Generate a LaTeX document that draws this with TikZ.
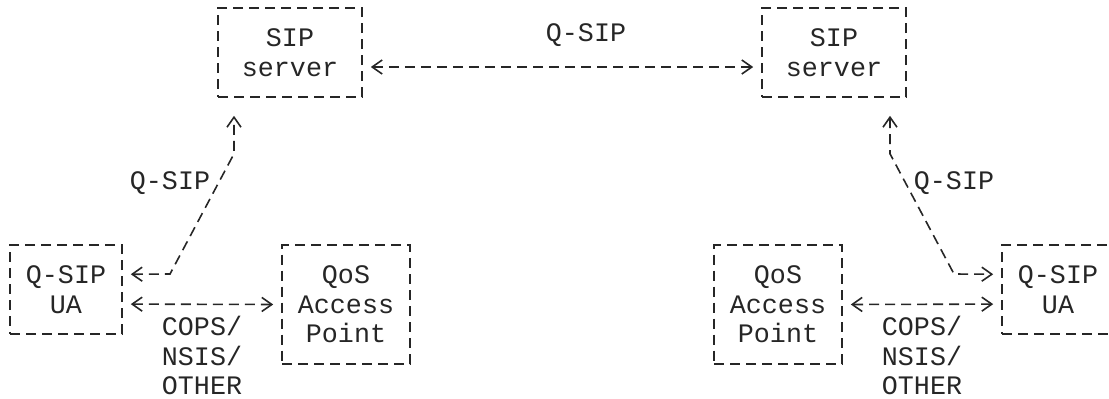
\documentclass[tikz,border=0pt]{standalone}
\usepackage{fontspec}
\setmonofont{Liberation Mono}
\usetikzlibrary{arrows.meta}

\begin{document}
\begin{tikzpicture}[x=0.5pt, y=-0.5pt, line width=0.8pt, draw=black!85,
  every node/.style={font=\ttfamily\fontsize{13.35pt}{14.83pt}\selectfont, text=black!85},
  box/.style={draw, dash pattern=on 5pt off 3pt, inner sep=0pt, align=center, minimum height=44.5pt},
  link/.style={dash pattern=on 5pt off 3pt, {Straight Barb[length=5pt,width=7pt]}-{Straight Barb[length=5pt,width=7pt]}, shorten <=4pt, shorten >=4pt}]
\useasboundingbox (0,0) rectangle (1109,398);

\node[box, minimum width=72pt] (srv1) at (290,52.5) {SIP\\server};
\node[box, minimum width=72pt] (srv2) at (834,52.5) {SIP\\server};
\node[box, minimum width=56pt] (ua1) at (66,289.7) {Q-SIP\\UA};
\node[box, minimum width=64pt, minimum height=59.3pt] (qos1) at (346,304.5) {QoS\\Access\\Point};
\node[box, minimum width=64pt, minimum height=59.3pt] (qos2) at (778,304.5) {QoS\\Access\\Point};
\node[box, minimum width=56pt] (ua2) at (1058,289.7) {Q-SIP\\UA};

\node (qsip) at (586,35.15) {Q-SIP};
\node (qsipl) at (170,183.4) {Q-SIP};
\node (qsipr) at (954,183.4) {Q-SIP};
\node[align=left, anchor=south, inner sep=0pt] (protol) at (202,396) {COPS/\\NSIS/\\OTHER};
\node[align=left, anchor=south, inner sep=0pt] (protor) at (922,396) {COPS/\\NSIS/\\OTHER};

\coordinate (l1) at (170,274);
\coordinate (l2) at (234,153.75);
\coordinate (r1) at (954,274);
\coordinate (r2) at (890,153.75);

\draw[link] ([yshift=-7.25pt]srv1.east) -- ([yshift=-7.25pt]srv2.west);
\draw[link] ([yshift=-7.2pt]ua1.east) -- (qos1.west);
\draw[link] (qos2.east) -- ([yshift=-7.2pt]ua2.west);
\draw[link, shorten >=9pt] ([yshift=7.7pt]ua1.east) -- (l1) -- (l2) -- (l2 |- srv1.south);
\draw[link, shorten <=9pt] (r2 |- srv2.south) -- (r2) -- (r1) -- ([yshift=7.7pt]ua2.west);
\end{tikzpicture}
\end{document}
